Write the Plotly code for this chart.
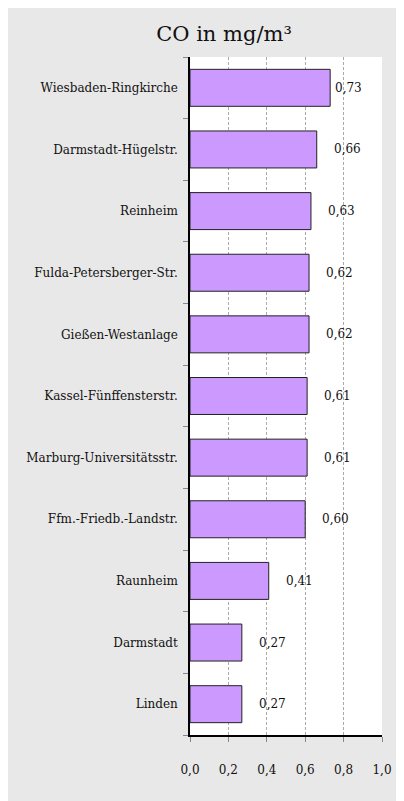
import plotly.graph_objects as go

stations = ["Wiesbaden-Ringkirche", "Darmstadt-Hügelstr.", "Reinheim",
            "Fulda-Petersberger-Str.", "Gießen-Westanlage", "Kassel-Fünffensterstr.",
            "Marburg-Universitätsstr.", "Ffm.-Friedb.-Landstr.", "Raunheim",
            "Darmstadt", "Linden"]
co_values = [0.73, 0.66, 0.63, 0.62, 0.62, 0.61, 0.61, 0.60, 0.41, 0.27, 0.27]
tick_vals = [0.0, 0.2, 0.4, 0.6, 0.8, 1.0]
tick_text = ["0,0", "0,2", "0,4", "0,6", "0,8", "1,0"]

FONT = "DejaVu Serif"

W, H = 396, 793
L, R, T, B = 182, 15, 49, 66

def fmt(v):
    return f"{v:.2f}".replace(".", ",")

fig = go.Figure()
fig.add_trace(go.Bar(
    y=stations, x=co_values, orientation="h",
    marker=dict(color="#CC99FF", line=dict(color="#222222", width=1)),
    width=0.6, hoverinfo="skip",
))

shifts = [3 if v > 0.7 else 15 for v in co_values]
for s, v, sh in zip(stations, co_values, shifts):
    fig.add_annotation(x=v, y=s, text=fmt(v), showarrow=False, xanchor="left",
                       xshift=sh, font=dict(family=FONT, size=12, color="#111111"))

fig.update_layout(
    width=W, height=H,
    margin=dict(l=L, r=R, t=T, b=B),
    paper_bgcolor="#E8E8E8", plot_bgcolor="white",
    showlegend=False,
    title=dict(text="CO in mg/m³", x=216 / W, xanchor="center", y=1 - 26 / H, yanchor="middle",
               font=dict(family=FONT, size=21, color="#111111")),
    font=dict(family=FONT, size=12, color="#111111"),
    xaxis=dict(range=[0, 1.0], tickvals=tick_vals, ticktext=tick_text,
               showgrid=True, gridcolor="#AAAAAA", griddash="3px,2px", gridwidth=1,
               showline=True, linecolor="#000000", linewidth=1.5,
               ticks="outside", ticklen=5, tickcolor="#888888",
               ticklabelstandoff=18, zeroline=False,
               tickfont=dict(family=FONT, size=12)),
    yaxis=dict(categoryorder="array", categoryarray=stations[::-1],
               showline=True, linecolor="#000000", linewidth=1.5,
               ticks="outside", ticklen=5, tickcolor="#888888", tickson="boundaries",
               showgrid=False, ticklabelstandoff=8,
               tickfont=dict(family=FONT, size=12)),
)

fig.write_html("out.html")
